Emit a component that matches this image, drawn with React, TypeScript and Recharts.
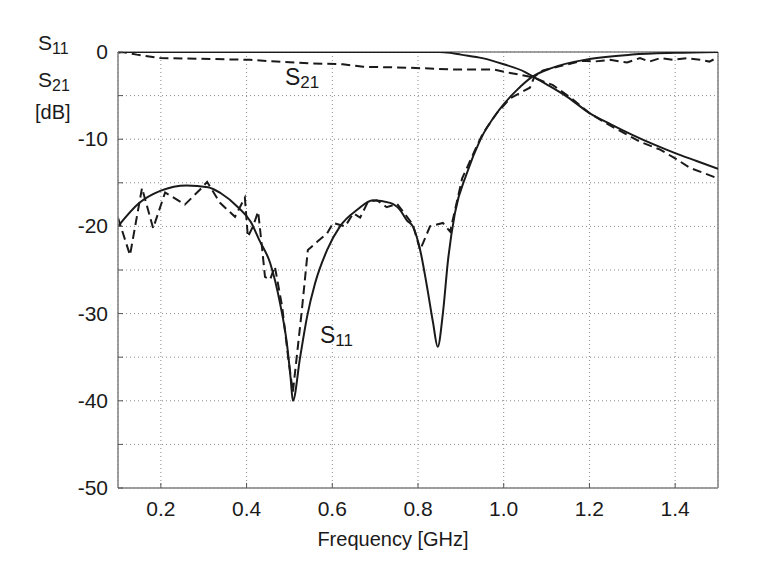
import React from "react";
import {
  LineChart,
  Line,
  CartesianGrid,
  XAxis,
  YAxis,
  ReferenceLine,
} from "recharts";

// frequency ticks (GHz) and dB ticks
const xTicks = [0.2, 0.4, 0.6, 0.8, 1.0, 1.2, 1.4];
const yTicks = [-50, -45, -40, -35, -30, -25, -20, -15, -10, -5, 0];

// S11 simulated (solid)
const s11SimFreq = [
  0.1, 0.15, 0.2, 0.26, 0.31, 0.34, 0.38, 0.41, 0.43, 0.455, 0.478, 0.494,
  0.503, 0.508, 0.525, 0.541, 0.56, 0.588, 0.618, 0.658, 0.695, 0.735, 0.758,
  0.774, 0.788, 0.805, 0.821, 0.835, 0.846, 0.858, 0.87, 0.886, 0.914, 0.945,
  0.99, 1.03, 1.068, 1.108, 1.2, 1.3, 1.4, 1.5,
];
const s11SimDb = [
  -20, -17.3, -15.9, -15.3, -15.5, -16.2, -17.8, -19.5, -21.6, -24.2, -28.8,
  -33.4, -37.5, -40, -35, -30.4, -26.5, -22.7, -20, -18.1, -17.0, -17.3, -18.1,
  -19.3, -20, -22.7, -26.9, -31, -33.8, -30, -23.9, -18.5, -13.9, -10.1, -6.6,
  -4.4, -2.8, -1.9, -0.8, -0.3, -0.1, 0,
];

// S11 measured (dashed)
const s11MeasFreq = [
  0.1, 0.128, 0.156, 0.182, 0.21, 0.256, 0.291, 0.308, 0.338, 0.373, 0.396,
  0.403, 0.415, 0.427, 0.436, 0.443, 0.455, 0.466, 0.483, 0.497, 0.508, 0.517,
  0.529, 0.543, 0.564, 0.588, 0.602, 0.63, 0.649, 0.665, 0.683, 0.704, 0.727,
  0.751, 0.788, 0.805, 0.828, 0.858, 0.875, 0.903, 0.938, 0.952, 0.984, 1.015,
  1.061, 1.072, 1.092, 1.15, 1.185, 1.21, 1.248, 1.288, 1.318, 1.34, 1.365,
  1.395, 1.428, 1.458, 1.48, 1.5,
];
const s11MeasDb = [
  -19, -23.3, -15.6, -20.2, -16.1, -17.5, -15.8, -14.9, -17.3, -18.9, -16.7,
  -21.2, -20, -18.3, -22.4, -25.8, -26.1, -24.6, -29.2, -35, -39, -35, -29.6,
  -22.7, -21.8, -20.8, -19.6, -20, -18.5, -19, -17.2, -17, -17.8, -17.4, -19.8,
  -22.7, -20, -19.6, -20.6, -14.5, -10.7, -9.3, -7, -5.3, -4.1, -2.8, -2.1,
  -1.4, -1.0, -1.1, -0.9, -1.2, -0.7, -1.1, -0.7, -0.9, -0.7, -0.9, -1.1, -0.6,
];

// S21 simulated (solid)
const s21SimFreq = [
  0.1, 0.85, 0.875, 0.9, 0.95, 1.0, 1.05, 1.068, 1.1, 1.15, 1.2, 1.25, 1.3,
  1.35, 1.4, 1.45, 1.5,
];
const s21SimDb = [
  0, 0, -0.1, -0.3, -0.7, -1.4, -2.3, -2.8, -3.7, -5.2, -7.0, -8.3, -9.5,
  -10.6, -11.6, -12.5, -13.4,
];

// S21 measured (dashed)
const s21MeasFreq = [
  0.1, 0.11, 0.144, 0.198, 0.315, 0.408, 0.47, 0.548, 0.625, 0.672, 0.781,
  0.875, 0.975, 1.015, 1.068, 1.115, 1.16, 1.2, 1.24, 1.318, 1.365, 1.4, 1.435,
  1.5,
];
const s21MeasDb = [
  -0.1, 0, -0.3, -0.7, -0.8, -0.9, -1.1, -1.3, -1.4, -1.7, -1.8, -2.0, -2.0,
  -2.4, -2.9, -3.8, -5.4, -7.0, -8.2, -10.3, -11.2, -12.2, -13.3, -14.5,
];

const rows = (fs: number[], vs: number[]) =>
  fs.map((f, i) => ({ f, v: vs[i] }));

const FONT = "'Liberation Sans', Arial, sans-serif";
const INK = "#1a1a1a";
const FRAME = "#808080";

function XTick(p: any) {
  const axisY = p.y - 14;
  return (
    <g>
      <line x1={p.x} x2={p.x} y1={axisY} y2={axisY - 5} stroke="#555" />
      <text
        x={p.x}
        y={p.y + 14}
        textAnchor="middle"
        fontSize={21}
        fontFamily={FONT}
        fill={INK}
      >
        {Number(p.payload.value).toFixed(1)}
      </text>
    </g>
  );
}

function YTick(p: any) {
  const v = p.payload.value;
  const axisX = p.x + 10;
  return (
    <g>
      <line x1={axisX} x2={axisX + 5} y1={p.y} y2={p.y} stroke="#555" />
      {v % 10 === 0 && (
        <text
          x={p.x}
          y={p.y + 7}
          textAnchor="end"
          fontSize={21}
          fontFamily={FONT}
          fill={INK}
        >
          {v}
        </text>
      )}
    </g>
  );
}

function RightTick(p: any) {
  return <line x1={p.x} x2={p.x - 5} y1={p.y} y2={p.y} stroke="#555" />;
}

function TopTick(p: any) {
  return <line x1={p.x} x2={p.x} y1={p.y} y2={p.y + 5} stroke="#555" />;
}

export default function App() {
  return (
    <div
      style={{
        position: "absolute",
        left: 0,
        top: 0,
        width: 757,
        height: 574,
        background: "#fff",
      }}
    >
      <LineChart
        width={757}
        height={574}
        margin={{ top: 52, right: 39, left: 0, bottom: 46 }}
      >
        <CartesianGrid stroke="#8a8a8a" strokeDasharray="1 3" />
        <XAxis
          dataKey="f"
          type="number"
          domain={[0.1, 1.5]}
          ticks={xTicks}
          allowDataOverflow
          height={40}
          tickSize={0}
          tickMargin={14}
          tickLine={false}
          axisLine={{ stroke: FRAME, strokeWidth: 1.5 }}
          tick={<XTick />}
        />
        <XAxis
          xAxisId="top"
          orientation="top"
          dataKey="f"
          type="number"
          domain={[0.1, 1.5]}
          ticks={xTicks}
          height={0}
          tickSize={0}
          tickMargin={0}
          tickLine={false}
          axisLine={false}
          tick={<TopTick />}
        />
        <YAxis
          type="number"
          domain={[-50, 0]}
          ticks={yTicks}
          allowDataOverflow
          width={118}
          tickSize={0}
          tickMargin={10}
          tickLine={false}
          axisLine={{ stroke: FRAME, strokeWidth: 1.5 }}
          tick={<YTick />}
        />
        <YAxis
          yAxisId="right"
          orientation="right"
          type="number"
          domain={[-50, 0]}
          ticks={yTicks}
          width={0}
          tickSize={0}
          tickMargin={0}
          tickLine={false}
          axisLine={false}
          tick={<RightTick />}
        />
        <ReferenceLine x={1.5} stroke={FRAME} strokeWidth={1.5} />
        <ReferenceLine y={0} stroke={FRAME} strokeWidth={1.5} />
        <Line
          data={rows(s21MeasFreq, s21MeasDb)}
          dataKey="v"
          type="linear"
          stroke={INK}
          strokeWidth={2}
          strokeDasharray="9 5"
          dot={false}
          isAnimationActive={false}
        />
        <Line
          data={rows(s11MeasFreq, s11MeasDb)}
          dataKey="v"
          type="linear"
          stroke={INK}
          strokeWidth={2}
          strokeDasharray="9 5"
          dot={false}
          isAnimationActive={false}
        />
        <Line
          data={rows(s21SimFreq, s21SimDb)}
          dataKey="v"
          type="monotone"
          stroke={INK}
          strokeWidth={2}
          dot={false}
          isAnimationActive={false}
        />
        <Line
          data={rows(s11SimFreq, s11SimDb)}
          dataKey="v"
          type="monotone"
          stroke={INK}
          strokeWidth={2}
          dot={false}
          isAnimationActive={false}
        />
      </LineChart>
      <svg
        width={757}
        height={574}
        style={{ position: "absolute", left: 0, top: 0, pointerEvents: "none" }}
        fontFamily={FONT}
        fill={INK}
      >
        <text x={38} y={50} fontSize={21}>
          S<tspan fontSize={16} dy={4}>11</tspan>
        </text>
        <text x={38} y={87} fontSize={21}>
          S<tspan fontSize={16} dy={4}>21</tspan>
        </text>
        <text x={35} y={119} fontSize={20}>
          [dB]
        </text>
        <text x={285} y={85} fontSize={23}>
          S<tspan fontSize={17} dy={3}>21</tspan>
        </text>
        <text x={320} y={343} fontSize={23}>
          S<tspan fontSize={17} dy={3}>11</tspan>
        </text>
        <text x={393} y={546} fontSize={20} textAnchor="middle">
          Frequency [GHz]
        </text>
      </svg>
    </div>
  );
}
